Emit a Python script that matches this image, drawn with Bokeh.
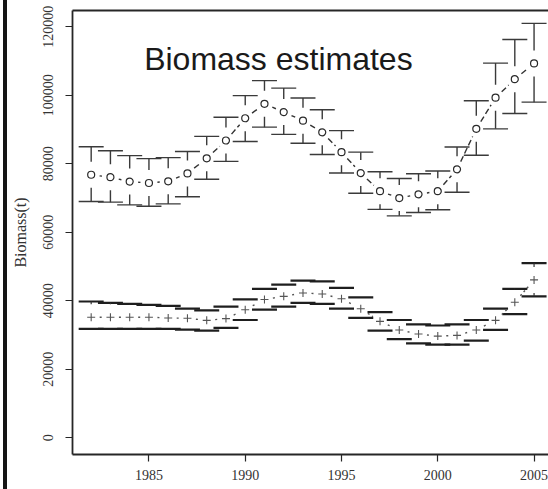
import numpy as np
from bokeh.plotting import figure
from bokeh.models import FixedTicker, Label, LinearAxis, Range1d, NumeralTickFormatter
from bokeh.embed import file_html
from bokeh.resources import INLINE

# ---------------- data ----------------
years = list(range(1982, 2006))

est_circle = [76800, 76100, 74800, 74400, 74900, 77200, 81600, 86800, 93300, 97500,
              95100, 92600, 89200, 83400, 77300, 72000, 70000, 71100, 72000, 78400,
              90200, 99300, 104700, 109300]
upper_circle = [85000, 83800, 82400, 81500, 81800, 83600, 88000, 93600, 99900, 104300,
                102100, 99200, 95800, 89700, 83400, 77700, 75700, 77100, 77900, 84900,
                98400, 109400, 116300, 121000]
lower_circle = [69000, 68800, 68000, 67600, 68300, 70400, 75500, 80700, 86500, 90700,
                88600, 86000, 82700, 77300, 71400, 66700, 64800, 65800, 66600, 71700,
                82500, 90200, 94700, 98000]

est_cross = [35200, 35200, 35200, 35200, 35000, 34900, 34300, 34800, 37400, 40400,
             41300, 42300, 42000, 40600, 37700, 34000, 31500, 30300, 29700, 29900,
             31500, 34300, 39600, 46100]
upper_cross = [39800, 39400, 39100, 38800, 38500, 37700, 37200, 38300, 40400, 43500,
               44700, 45900, 45700, 43800, 41000, 36700, 34400, 33100, 32800, 33100,
               34400, 37700, 43500, 51000]
lower_cross = [31800, 31800, 31800, 31800, 31800, 31600, 31300, 32100, 34400, 37400,
               38300, 39400, 39100, 37700, 35000, 31300, 28800, 27600, 27200, 27200,
               28400, 31500, 36100, 41300]

x_ticks = [1985, 1990, 1995, 2000, 2005]
y_ticks = [0, 20000, 40000, 60000, 80000, 100000, 120000]
title_text = "Biomass estimates"
y_label = "Biomass(t)"

# ---------------- layout ----------------
W, H = 548, 489
BL, BR, BT, BB = 72, 0, 10, 35
x0, x1 = 1981.03, 2005.75
y0, y1 = -4870, 124760
px_x = (W - BL - BR) / (x1 - x0)
px_y = (H - BT - BB) / (y1 - y0)

p = figure(width=W, height=H, x_range=Range1d(x0, x1), y_range=Range1d(y0, y1),
           output_backend="svg", toolbar_location=None,
           min_border_left=BL, min_border_right=BR, min_border_top=BT, min_border_bottom=BB,
           x_axis_type=None, y_axis_type=None)
p.outline_line_color = None
p.background_fill_color = "white"
p.border_fill_alpha = 0.0
# scanned page edge on the left (dark band), shown through the transparent border
p.styles = {"background": "linear-gradient(to right, white 0px, white 3px, #151515 3px, "
                          "#151515 7px, white 7px, white 100%)"}
p.xgrid.visible = False
p.ygrid.visible = False

AX = "#262626"
TICK_FONT = "Liberation Serif"

xaxis = LinearAxis(ticker=FixedTicker(ticks=x_ticks))
yaxis = LinearAxis(ticker=FixedTicker(ticks=y_ticks), axis_label=y_label,
                   formatter=NumeralTickFormatter(format="0"))
for ax in (xaxis, yaxis):
    ax.axis_line_color = AX
    ax.axis_line_width = 1.8
    ax.major_tick_line_color = AX
    ax.major_tick_line_width = 1.2
    ax.major_tick_in = 0
    ax.major_tick_out = 7
    ax.minor_tick_out = 0
    ax.minor_tick_in = 0
    ax.major_label_text_font = TICK_FONT
    ax.major_label_text_font_size = "14px"
    ax.major_label_text_color = "#333333"
xaxis.major_label_standoff = 8
yaxis.major_label_orientation = "vertical"
yaxis.major_label_standoff = 12
yaxis.axis_label_text_font = TICK_FONT
yaxis.axis_label_text_font_style = "normal"
yaxis.axis_label_text_font_size = "16px"
yaxis.axis_label_text_color = "#333333"
yaxis.axis_label_standoff = 12
p.add_layout(xaxis, "below")
p.add_layout(yaxis, "left")

top_axis = LinearAxis(ticker=FixedTicker(ticks=[]), major_label_text_font_size="0px",
                      major_tick_out=0, major_tick_in=0, minor_tick_out=0, minor_tick_in=0,
                      axis_line_color=AX, axis_line_width=1.8)
p.add_layout(top_axis, "above")


def gapped_segments(xs, ys, gap_px):
    xs = np.asarray(xs, float)
    ys = np.asarray(ys, float)
    sx0, sy0, sx1, sy1 = [], [], [], []
    for i in range(len(xs) - 1):
        dxp = (xs[i + 1] - xs[i]) * px_x
        dyp = (ys[i + 1] - ys[i]) * px_y
        L = np.hypot(dxp, dyp)
        if L <= 2 * gap_px:
            continue
        t = gap_px / L
        sx0.append(xs[i] + t * (xs[i + 1] - xs[i]))
        sy0.append(ys[i] + t * (ys[i + 1] - ys[i]))
        sx1.append(xs[i + 1] - t * (xs[i + 1] - xs[i]))
        sy1.append(ys[i + 1] - t * (ys[i + 1] - ys[i]))
    return sx0, sy0, sx1, sy1


def error_bars(xs, est, up, lo, cap_px, gap_px):
    hw = cap_px / 2 / px_x
    g = gap_px / px_y
    cx0, cx1, cy = [], [], []
    stx, sty0, sty1 = [], [], []
    for x, e, u, l in zip(xs, est, up, lo):
        cx0 += [x - hw, x - hw]
        cx1 += [x + hw, x + hw]
        cy += [u, l]
        if u - e > g:
            stx.append(x); sty0.append(u); sty1.append(e + g)
        if e - l > g:
            stx.append(x); sty0.append(l); sty1.append(e - g)
    return (cx0, cx1, cy), (stx, sty0, sty1)


GAP = 8.5
CAP = 25
STEM_GAP = 13

# ---- circle series ----
(cx0, cx1, cy), (stx, sty0, sty1) = error_bars(years, est_circle, upper_circle, lower_circle, CAP, STEM_GAP)
p.segment(x0=cx0, y0=cy, x1=cx1, y1=cy, line_color="#3a3a3a", line_width=1.4)
p.segment(x0=stx, y0=sty0, x1=stx, y1=sty1, line_color="#3a3a3a", line_width=1.4)
sx0, sy0, sx1, sy1 = gapped_segments(years, est_circle, GAP)
p.segment(x0=sx0, y0=sy0, x1=sx1, y1=sy1, line_color="#333333", line_width=1.4, line_dash="6 3")
p.scatter(years, est_circle, marker="circle", size=7, fill_color=None,
          line_color="#2a2a2a", line_width=1.2)

# ---- cross series ----
(cx0, cx1, cy), (stx, sty0, sty1) = error_bars(years, est_cross, upper_cross, lower_cross, CAP, STEM_GAP)
p.segment(x0=cx0, y0=cy, x1=cx1, y1=cy, line_color="#1e1e1e", line_width=2.2)
p.segment(x0=stx, y0=sty0, x1=stx, y1=sty1, line_color="#333333", line_width=1.2)
sx0, sy0, sx1, sy1 = gapped_segments(years, est_cross, GAP)
p.segment(x0=sx0, y0=sy0, x1=sx1, y1=sy1, line_color="#555555", line_width=1.4, line_dash="2 3")
p.scatter(years, est_cross, marker="cross", size=8, line_color="#555555", line_width=1.1)

# ---- title inside the plot ----
p.add_layout(Label(x=1984.75, y=110700, text=title_text, text_font="Liberation Sans",
                   text_font_size="32px", text_baseline="alphabetic", text_align="left",
                   text_color="#1a1a1a"))

open("out.html", "w").write(file_html(p, INLINE))
